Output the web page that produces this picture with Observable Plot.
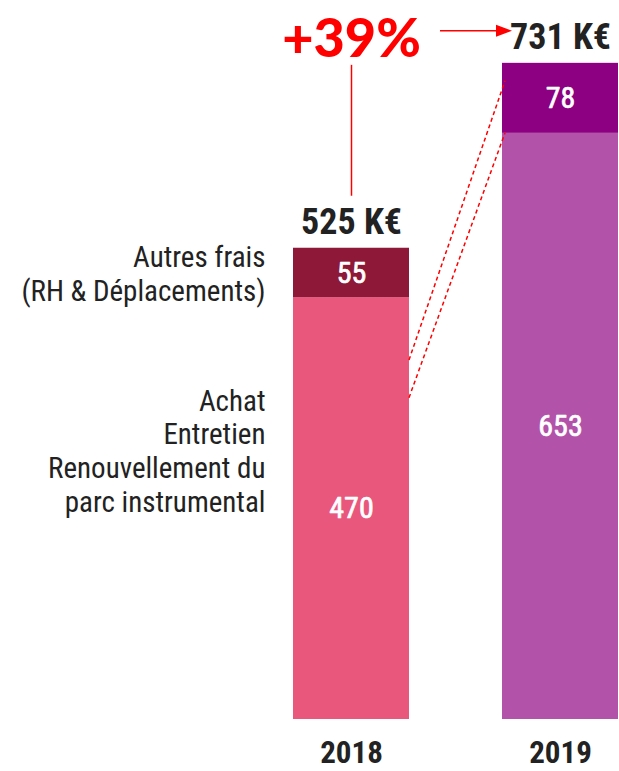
<!DOCTYPE html>
<html><head><meta charset="utf-8">
<script src="https://cdn.jsdelivr.net/npm/d3@7"></script>
<script src="https://cdn.jsdelivr.net/npm/@observablehq/plot@0.6"></script>
<style>
html,body{margin:0;padding:0;background:#fff;}
#chart svg{display:block;}
</style></head><body><div id="chart"></div>
<script>
const years = ["2018", "2019"];
const categories = ["Achat\nEntretien\nRenouvellement du\nparc instrumental", "Autres frais\n(RH & Déplacements)"];
const values2018 = [470, 55];
const values2019 = [653, 78];
const totals = [525, 731];
const colors2018 = ["#E9577D", "#8E1838"];
const colors2019 = ["#B252A8", "#8C0081"];
const connectorFrom = [400, 358];
const connectorTo = [711, 653];

const NARROW = '"Liberation Sans Narrow","Arial Narrow","Roboto Condensed","DejaVu Sans Condensed",sans-serif';
const INK = "#222";

const rows = [];
years.forEach((yr, i) => {
  const vals = i === 0 ? values2018 : values2019;
  const cols = i === 0 ? colors2018 : colors2019;
  categories.forEach((c, j) => rows.push({year: yr, category: c, value: vals[j], color: cols[j]}));
});
const totalRows = years.map((yr, i) => ({year: yr, total: totals[i]}));
const growth = Math.round((totals[1] / totals[0] - 1) * 100);
const legendRows = categories.map((c, j) => ({
  category: c,
  mid: values2018.slice(0, j).reduce((a, b) => a + b, 0) + values2018[j] / 2
}));

const annotations = (index, scales) => {
  const x = scales.x, y = scales.y;
  const bw = x.bandwidth ? x.bandwidth() : 116;
  const x18 = x("2018"), x19 = x("2019");
  const g = d3.create("svg:g");
  connectorFrom.forEach((v, i) => {
    g.append("line")
      .attr("x1", x18 + bw).attr("y1", y(v))
      .attr("x2", x19 + 3).attr("y2", y(connectorTo[i]))
      .attr("stroke", "red").attr("stroke-width", 1.5).attr("stroke-dasharray", "4,3");
  });
  const ay = y(totals[1]) - 32;
  const ax1 = x18 + bw / 2 + 89, ax2 = x19 + bw / 2 - 48;
  g.append("line").attr("x1", ax1).attr("x2", ax2 - 14).attr("y1", ay).attr("y2", ay)
    .attr("stroke", "red").attr("stroke-width", 1.5);
  g.append("path").attr("d", `M${ax2},${ay}L${ax2 - 16},${ay - 6}L${ax2 - 16},${ay + 6}Z`).attr("fill", "red");
  return g.node();
};

const chart = Plot.plot({
  width: 619, height: 771,
  marginTop: 0, marginRight: 0, marginBottom: 52, marginLeft: 0,
  x: {type: "band", domain: years, range: [293, 618], paddingInner: 0.445, paddingOuter: 0, axis: null},
  y: {domain: [0, 801], axis: null},
  color: {type: "identity"},
  style: {fontFamily: NARROW, background: "#fff", overflow: "visible"},
  marks: [
    Plot.barY(rows, {x: "year", y: "value", fill: "color"}),
    Plot.text(rows, Plot.stackY({x: "year", y: "value", text: d => String(d.value), fill: "white", stroke: "white", strokeWidth: 0.7, fontSize: 30})),
    Plot.text(totalRows, {x: "year", y: "total", text: d => `${d.total} K€`, fontSize: 36, fontWeight: "bold", fill: INK, lineAnchor: "bottom", dy: -14}),
    Plot.text(years, {x: d => d, y: () => 0, text: d => d, fontSize: 31, fontWeight: "bold", fill: INK, lineAnchor: "middle", dy: 34}),
    Plot.text(legendRows.slice(1), {x: () => "2018", y: "mid", text: "category", textAnchor: "end", dx: -86, fontSize: 29, fill: INK, lineHeight: 1.17, lineAnchor: "middle"}),
    Plot.text(legendRows.slice(0, 1), {x: () => "2018", y: "mid", text: "category", textAnchor: "end", dx: -86, dy: -58, fontSize: 29, fill: INK, lineHeight: 1.17, lineAnchor: "middle"}),
    Plot.ruleX([growth], {x: () => "2018", y1: () => totals[1], y2: () => totals[0], insetTop: 2, insetBottom: 52, stroke: "red", strokeWidth: 1.5}),
    Plot.text([growth], {x: () => "2018", y: () => totals[1], text: d => `+${d}%`, fill: "red", fontSize: 54, fontWeight: 900, fontFamily: "Lato", lineAnchor: "bottom", dy: -6}),
    annotations
  ]
});
document.getElementById("chart").appendChild(chart);
</script></body></html>
